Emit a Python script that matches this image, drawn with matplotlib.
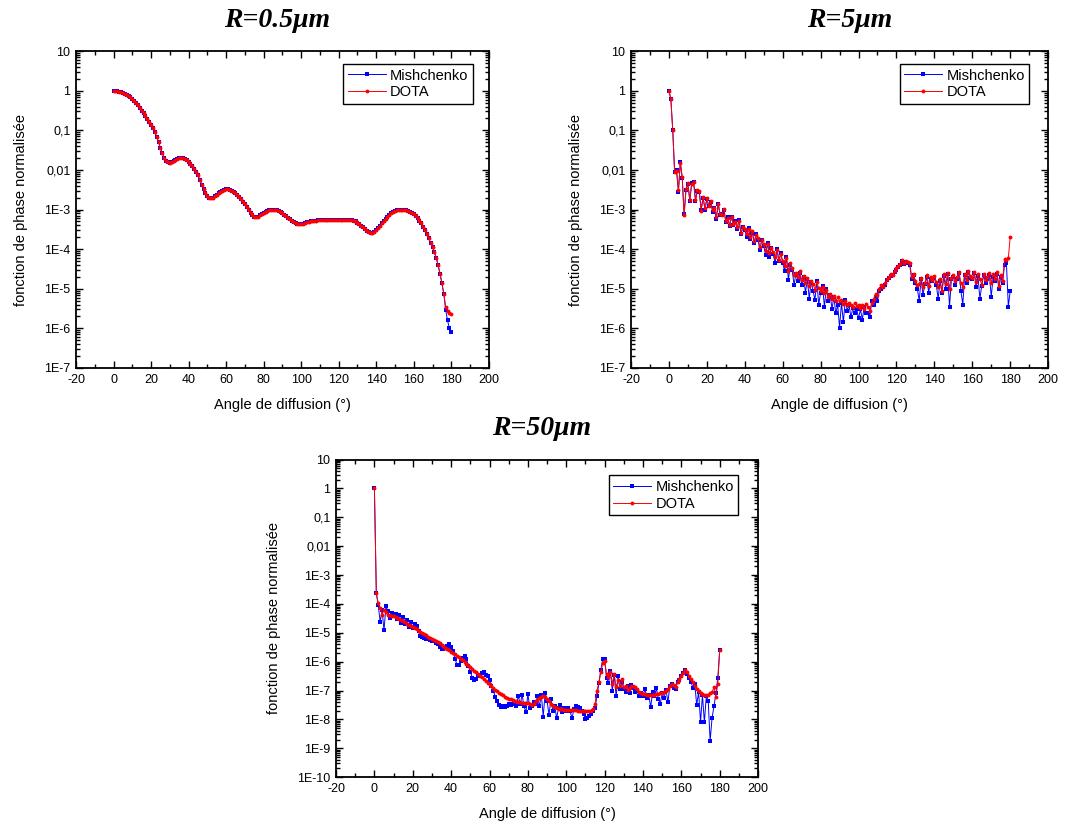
import numpy as np
import matplotlib.pyplot as plt
from matplotlib.ticker import LogLocator, FuncFormatter, MultipleLocator, NullFormatter

plt.rcParams['font.family'] = ['Liberation Sans', 'DejaVu Sans']
plt.rcParams['axes.unicode_minus'] = False

angles = np.arange(0, 181)

# R = 0.5 um, log10 of normalised phase function (shared part 0..176 deg)
common_05 = [
    0.00, 0.00, -0.01, -0.02, -0.03, -0.05, -0.07, -0.10, -0.13, -0.17,
    -0.21, -0.26, -0.31, -0.37, -0.43, -0.50, -0.57, -0.64, -0.71, -0.78,
    -0.86, -0.95, -1.05, -1.16, -1.30, -1.45, -1.58, -1.70, -1.77, -1.81,
    -1.82, -1.81, -1.78, -1.75, -1.72, -1.70, -1.69, -1.70, -1.72, -1.75,
    -1.79, -1.84, -1.90, -1.97, -2.05, -2.14, -2.25, -2.37, -2.48, -2.58,
    -2.66, -2.70, -2.71, -2.70, -2.66, -2.62, -2.58, -2.55, -2.52, -2.50,
    -2.49, -2.49, -2.50, -2.52, -2.55, -2.59, -2.63, -2.68, -2.74, -2.80,
    -2.87, -2.94, -3.02, -3.09, -3.15, -3.18, -3.19, -3.18, -3.15, -3.11,
    -3.08, -3.05, -3.03, -3.01, -3.00, -3.00, -3.00, -3.01, -3.03, -3.06,
    -3.09, -3.13, -3.17, -3.21, -3.25, -3.29, -3.32, -3.35, -3.37, -3.37,
    -3.37, -3.36, -3.34, -3.32, -3.31, -3.30, -3.29, -3.28, -3.28, -3.27,
    -3.27, -3.27, -3.27, -3.27, -3.27, -3.27, -3.27, -3.27, -3.27, -3.27,
    -3.27, -3.27, -3.27, -3.27, -3.27, -3.27, -3.27, -3.27, -3.28, -3.30,
    -3.33, -3.37, -3.41, -3.45, -3.49, -3.53, -3.56, -3.58, -3.58, -3.56,
    -3.52, -3.47, -3.41, -3.35, -3.29, -3.23, -3.18, -3.13, -3.09, -3.06,
    -3.04, -3.02, -3.01, -3.00, -3.00, -3.00, -3.01, -3.03, -3.05, -3.08,
    -3.12, -3.17, -3.22, -3.28, -3.35, -3.43, -3.52, -3.62, -3.73, -3.85,
    -3.95, -4.08, -4.22, -4.41, -4.62, -4.86, -5.12,
]
mish_05 = common_05 + [-5.53, -5.80, -6.00, -6.09]
dota_05 = common_05 + [-5.45, -5.55, -5.61, -5.63]

# R = 5 um
dota_5 = [
    0.00, -0.21, -1.00, -2.06, -2.02, -2.50, -1.82, -2.18, -3.15, -2.48,
    -2.34, -2.75, -2.35, -2.31, -2.76, -2.50, -2.54, -3.03, -2.68, -2.97,
    -2.72, -2.90, -2.78, -3.02, -2.95, -3.18, -2.86, -3.12, -3.14, -2.98,
    -3.30, -3.22, -3.38, -3.20, -3.36, -3.32, -3.45, -3.28, -3.58, -3.44,
    -3.50, -3.62, -3.48, -3.70, -3.55, -3.80, -3.64, -3.72, -3.95, -3.78,
    -3.88, -4.05, -3.86, -4.10, -3.98, -4.08, -4.20, -4.02, -4.28, -4.12,
    -4.30, -4.42, -4.22, -4.55, -4.35, -4.48, -4.66, -4.60, -4.70, -4.55,
    -4.78, -4.68, -4.85, -4.72, -4.92, -4.80, -4.88, -5.02, -4.84, -4.98,
    -5.05, -4.95, -5.10, -5.02, -5.20, -5.12, -5.25, -5.18, -5.30, -5.22,
    -5.32, -5.28, -5.38, -5.30, -5.42, -5.35, -5.40, -5.45, -5.36, -5.44,
    -5.40, -5.48, -5.42, -5.50, -5.38, -5.45, -5.55, -5.35, -5.25, -5.12,
    -5.15, -5.00, -4.90, -4.95, -4.85, -4.75, -4.70, -4.62, -4.65, -4.55,
    -4.48, -4.42, -4.38, -4.28, -4.35, -4.30, -4.32, -4.36, -4.70, -4.62,
    -4.80, -4.90, -4.88, -4.72, -4.95, -4.85, -4.65, -4.92, -4.70, -4.78,
    -4.68, -4.82, -4.95, -4.75, -5.05, -4.62, -4.88, -4.60, -5.00, -4.72,
    -4.65, -4.80, -4.70, -4.58, -4.85, -4.95, -4.62, -4.78, -4.55, -4.68,
    -4.72, -4.58, -4.82, -4.64, -4.75, -4.90, -4.62, -4.78, -4.70, -4.60,
    -4.85, -4.62, -4.75, -4.58, -4.92, -4.65, -4.80, -4.25, -4.28, -4.22,
    -3.70,
]
mish_5 = [
    0.00, -0.21, -0.98, -2.05, -2.00, -2.55, -1.80, -2.20, -3.12, -2.50,
    -2.36, -2.78, -2.32, -2.30, -2.78, -2.52, -2.55, -3.00, -2.70, -3.00,
    -2.74, -2.92, -2.80, -3.05, -2.95, -3.25, -2.85, -3.15, -3.10, -3.00,
    -3.32, -3.20, -3.42, -3.18, -3.38, -3.30, -3.48, -3.27, -3.62, -3.45,
    -3.52, -3.70, -3.46, -3.75, -3.58, -3.85, -3.62, -3.78, -4.02, -3.76,
    -3.92, -4.15, -3.85, -4.20, -3.96, -4.12, -4.35, -4.00, -4.30, -4.10,
    -4.35, -4.55, -4.20, -4.78, -4.40, -4.52, -4.90, -4.62, -4.80, -4.60,
    -4.90, -4.70, -5.10, -4.76, -5.25, -4.82, -5.05, -5.28, -4.80, -5.40,
    -5.10, -4.92, -5.45, -5.00, -5.30, -5.15, -5.50, -5.22, -5.62, -5.40,
    -5.98, -5.35, -5.85, -5.28, -5.55, -5.42, -5.72, -5.48, -5.60, -5.50,
    -5.75, -5.52, -5.78, -5.45, -5.62, -5.60, -5.72, -5.30, -5.40, -5.20,
    -5.30, -5.05, -5.00, -4.92, -4.90, -4.78, -4.72, -4.68, -4.65, -4.58,
    -4.52, -4.45, -4.40, -4.30, -4.38, -4.32, -4.35, -4.40, -4.75, -4.66,
    -4.85, -5.00, -5.30, -4.75, -5.15, -4.88, -4.70, -5.10, -4.75, -4.80,
    -4.72, -4.90, -5.25, -4.80, -5.10, -4.68, -5.00, -4.62, -5.45, -4.75,
    -4.70, -4.90, -4.75, -4.60, -5.05, -5.40, -4.65, -4.85, -4.58, -4.72,
    -4.75, -4.60, -4.95, -4.68, -5.25, -4.92, -4.66, -4.85, -4.75, -4.65,
    -5.20, -4.70, -4.80, -4.62, -5.00, -4.70, -4.85, -4.40, -4.35, -5.45,
    -5.05,
]

# R = 50 um
dota_50 = [
    0.00, -3.63, -3.98, -4.14, -4.37, -4.20, -4.29, -4.37, -4.40, -4.41,
    -4.41, -4.44, -4.48, -4.52, -4.56, -4.60, -4.64, -4.68, -4.72, -4.75,
    -4.79, -4.83, -4.88, -4.93, -4.97, -5.02, -5.05, -5.09, -5.13, -5.17,
    -5.21, -5.25, -5.29, -5.33, -5.37, -5.42, -5.46, -5.51, -5.56, -5.60,
    -5.65, -5.70, -5.75, -5.80, -5.85, -5.90, -5.96, -6.02, -6.08, -6.13,
    -6.19, -6.25, -6.31, -6.37, -6.43, -6.48, -6.54, -6.61, -6.67, -6.73,
    -6.79, -6.85, -6.91, -6.97, -7.03, -7.09, -7.13, -7.17, -7.21, -7.25,
    -7.29, -7.31, -7.34, -7.36, -7.38, -7.40, -7.41, -7.42, -7.42, -7.43,
    -7.43, -7.45, -7.49, -7.45, -7.38, -7.32, -7.26, -7.21, -7.19, -7.22,
    -7.29, -7.37, -7.45, -7.52, -7.57, -7.61, -7.63, -7.64, -7.65, -7.66,
    -7.67, -7.67, -7.68, -7.68, -7.69, -7.69, -7.70, -7.70, -7.71, -7.71,
    -7.72, -7.72, -7.72, -7.72, -7.65, -7.46, -7.00, -6.71, -6.37, -6.06,
    -5.99, -6.42, -6.54, -6.37, -6.77, -6.42, -6.89, -6.65, -6.83, -6.60,
    -6.89, -6.85, -6.98, -6.90, -6.83, -6.86, -6.89, -6.95, -7.04, -7.08,
    -7.12, -7.13, -7.14, -7.14, -7.15, -7.14, -7.14, -7.12, -7.11, -7.10,
    -7.09, -7.05, -7.00, -6.94, -6.85, -6.77, -6.82, -6.89, -6.71, -6.60,
    -6.48, -6.38, -6.29, -6.37, -6.48, -6.60, -6.72, -6.83, -6.95, -7.03,
    -7.09, -7.12, -7.14, -7.14, -7.14, -7.10, -7.06, -6.89, -7.21, -6.77,
    -5.58,
]
mish_50 = [
    0.00, -3.63, -4.05, -4.62, -4.22, -4.92, -4.08, -4.25, -4.50, -4.30,
    -4.40, -4.35, -4.52, -4.38, -4.65, -4.45, -4.70, -4.55, -4.80, -4.62,
    -4.85, -4.70, -4.75, -4.95, -5.10, -5.15, -5.18, -5.20, -5.22, -5.25,
    -5.28, -5.30, -5.35, -5.40, -5.48, -5.55, -5.55, -5.52, -5.45, -5.40,
    -5.48, -5.62, -5.90, -6.10, -6.12, -5.98, -5.88, -5.82, -5.90, -6.15,
    -6.35, -6.55, -6.65, -6.60, -6.48, -6.45, -6.40, -6.35, -6.45, -6.50,
    -6.62, -6.85, -7.00, -7.22, -7.35, -7.50, -7.58, -7.55, -7.58, -7.52,
    -7.45, -7.50, -7.48, -7.40, -7.52, -7.18, -7.48, -7.15, -7.55, -7.75,
    -7.12, -7.60, -7.55, -7.40, -7.45, -7.20, -7.55, -7.15, -7.90, -7.08,
    -7.35, -7.85, -7.30, -7.70, -7.55, -7.95, -7.60, -7.50, -7.75, -7.62,
    -7.70, -7.60, -7.72, -7.95, -7.65, -7.55, -7.58, -7.62, -7.70, -7.80,
    -7.98, -7.95, -7.88, -7.80, -7.72, -7.60, -7.20, -6.75, -6.30, -5.92,
    -5.92, -6.55, -6.75, -6.32, -7.00, -6.45, -7.20, -6.50, -6.95, -6.70,
    -6.95, -7.05, -6.85, -7.10, -6.80, -6.92, -7.05, -7.00, -7.20, -7.10,
    -7.20, -6.95, -7.25, -7.15, -7.58, -7.05, -7.20, -6.92, -7.30, -7.45,
    -7.10, -7.25, -6.98, -7.40, -6.85, -6.78, -6.90, -6.95, -6.70, -6.62,
    -6.50, -6.40, -6.30, -6.42, -6.55, -6.70, -6.90, -6.78, -7.50, -7.05,
    -8.10, -7.15, -8.10, -7.20, -7.35, -8.75, -7.95, -7.55, -7.10, -6.55,
    -5.58,
]

titles = ['R=0.5μm', 'R=5μm', 'R=50μm']
ylims = [(1e-7, 10), (1e-7, 10), (1e-10, 10)]


def ylab(v, pos):
    e = int(round(np.log10(v)))
    names = {1: '10', 0: '1', -1: '0,1', -2: '0,01'}
    return names.get(e, '1E%d' % e)


fig = plt.figure(figsize=(10.75, 8.25), dpi=100)
rects = [[0.0707, 0.554, 0.384, 0.384],
         [0.587, 0.554, 0.388, 0.384],
         [0.3126, 0.058, 0.3926, 0.385]]
title_pos = [(0.258, 0.975), (0.79, 0.975), (0.504, 0.481)]
leg_anchor = [(0.961, 0.959), (0.955, 0.959), (0.953, 0.95)]
series = [(mish_05, dota_05), (mish_5, dota_5), (mish_50, dota_50)]

for i in range(3):
    ax = fig.add_axes(rects[i])
    m, d = series[i]
    ax.plot(angles, 10 ** np.array(m), color='#0000ff', lw=0.7, marker='s',
            ms=2.5, mew=0, label='Mishchenko')
    ax.plot(angles, 10 ** np.array(d), color='#ff0000', lw=0.7, marker='o',
            ms=2.8, mew=0, label='DOTA')
    ax.set_yscale('log')
    ax.set_xlim(-20, 200)
    ax.set_ylim(*ylims[i])
    ax.xaxis.set_major_locator(MultipleLocator(20))
    ax.xaxis.set_minor_locator(MultipleLocator(10))
    ax.yaxis.set_major_locator(LogLocator(base=10, numticks=20))
    ax.yaxis.set_minor_locator(LogLocator(base=10, subs=np.arange(2, 10), numticks=20))
    ax.yaxis.set_major_formatter(FuncFormatter(ylab))
    ax.yaxis.set_minor_formatter(NullFormatter())
    ax.tick_params(which='both', direction='in', top=True, right=True,
                   labelsize=9, width=1.0, colors='black')
    ax.tick_params(which='major', length=5, pad=4)
    ax.tick_params(which='minor', length=3)
    for s in ax.spines.values():
        s.set_linewidth(1.3)
    ax.set_xlabel('Angle de diffusion (°)', fontsize=10.5, labelpad=9)
    ax.set_ylabel('fonction de phase normalisée', fontsize=10.5, labelpad=12)
    ax.legend(loc='upper right', bbox_to_anchor=leg_anchor[i], borderaxespad=0,
              fontsize=10.5, fancybox=False, edgecolor='black', framealpha=1,
              handlelength=2.6, handletextpad=0.3, borderpad=0.3, labelspacing=0.2)
    fig.text(title_pos[i][0], title_pos[i][1], titles[i], ha='center', va='center',
             family='Liberation Serif', weight='bold', style='italic', fontsize=20)

fig.savefig('out.png', dpi=100)
